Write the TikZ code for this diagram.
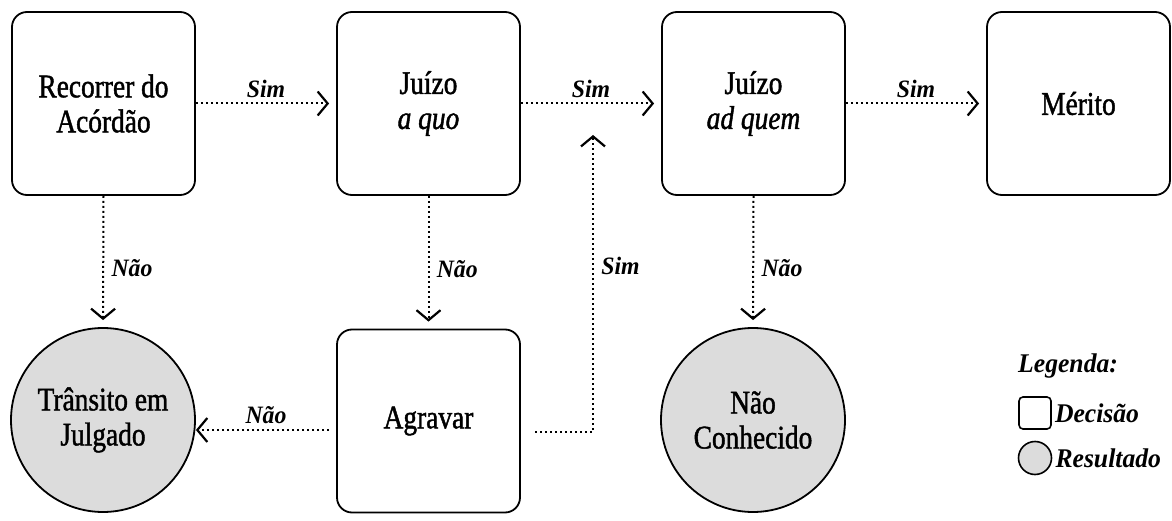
\documentclass[tikz,border=0pt]{standalone}
\usepackage{fontspec}
\setmainfont{Liberation Serif}[FakeStretch=0.83, FakeBold=1.3]
\newfontfamily\lblfont{Liberation Serif}[FakeStretch=0.95]
\usetikzlibrary{arrows.meta}
\definecolor{resfill}{HTML}{DCDCDC}
\tikzset{
  decbox/.style={draw, line width=1.8pt, rounded corners=15pt, minimum width=183pt, minimum height=183pt, inner sep=0pt, align=center, font=\fontsize{33}{35}\selectfont},
  resnode/.style={draw, circle, line width=1.8pt, fill=resfill, minimum size=184pt, inner sep=0pt, align=center, font=\fontsize{33}{35}\selectfont},
  conn/.style={line width=2pt, dash pattern=on 2pt off 3pt, -{Straight Barb[length=10pt, width=24pt, line width=2.2pt]}},
  lbl/.style={font=\lblfont\fontsize{25}{30}\selectfont\bfseries\itshape},
  leglbl/.style={font=\lblfont\fontsize{27}{32}\selectfont\bfseries\itshape},
}
\begin{document}
\begin{tikzpicture}[x=1pt,y=-1pt]
\useasboundingbox (0,0) rectangle (1172,521);
\node[decbox] (rec) at (103.5,103.5) {Recorrer do\\Acórdão};
\node[decbox] (quo) at (428.5,103.5) {Juízo\\\textit{a quo}};
\node[decbox] (quem) at (753.5,103.5) {Juízo\\\textit{ad quem}};
\node[decbox] (mer) at (1078.5,103.5) {Mérito};
\node[decbox] (agr) at (428.5,421) {Agravar};
\node[resnode] (tra) at (103,420) {Trânsito em\\Julgado};
\node[resnode] (nc) at (753,420) {Não\\Conhecido};

\draw[conn, shorten >=7pt] (rec.east) -- node[lbl, above=1pt] {Sim} (quo.west);
\draw[conn, shorten >=7pt] (quo.east) -- node[lbl, above=1pt] {Sim} (quem.west);
\draw[conn, shorten >=7pt] (quem.east) -- node[lbl, above=1pt] {Sim} (mer.west);

\draw[conn, shorten >=7pt] (rec.south) -- node[lbl, right=4pt, pos=0.55] {Não} (tra.north);
\draw[conn, shorten >=7pt] (quo.south) -- node[lbl, right=4pt, pos=0.55] {Não} (agr.north);
\draw[conn, shorten >=7pt] (quem.south) -- node[lbl, right=4pt, pos=0.55] {Não} (nc.north);

\coordinate (up) at (593,135);
\draw[conn, shorten <=7pt] (agr.west |- 0,430) -- node[lbl, above=2pt] {Não} (tra.east |- 0,430);
\coordinate (agrout) at (535,432);
\draw[conn] (agrout) -| node[lbl, right=4pt, pos=0.78] {Sim} (up);

% legend
\node[leglbl, anchor=west, inner sep=0pt] (leg) at (1018,366) {Legenda:};
\node[draw, line width=1.6pt, rounded corners=4pt, minimum size=32pt, inner sep=0pt] (lsq) at (1035,413) {};
\node[leglbl, anchor=west, inner sep=3pt] (ldec) at (lsq.east) {Decisão};
\node[draw, circle, line width=1.6pt, fill=resfill, minimum size=33pt, inner sep=0pt] (lci) at (1035,458) {};
\node[leglbl, anchor=west, inner sep=3pt] (lres) at (lci.east) {Resultado};
\end{tikzpicture}
\end{document}
